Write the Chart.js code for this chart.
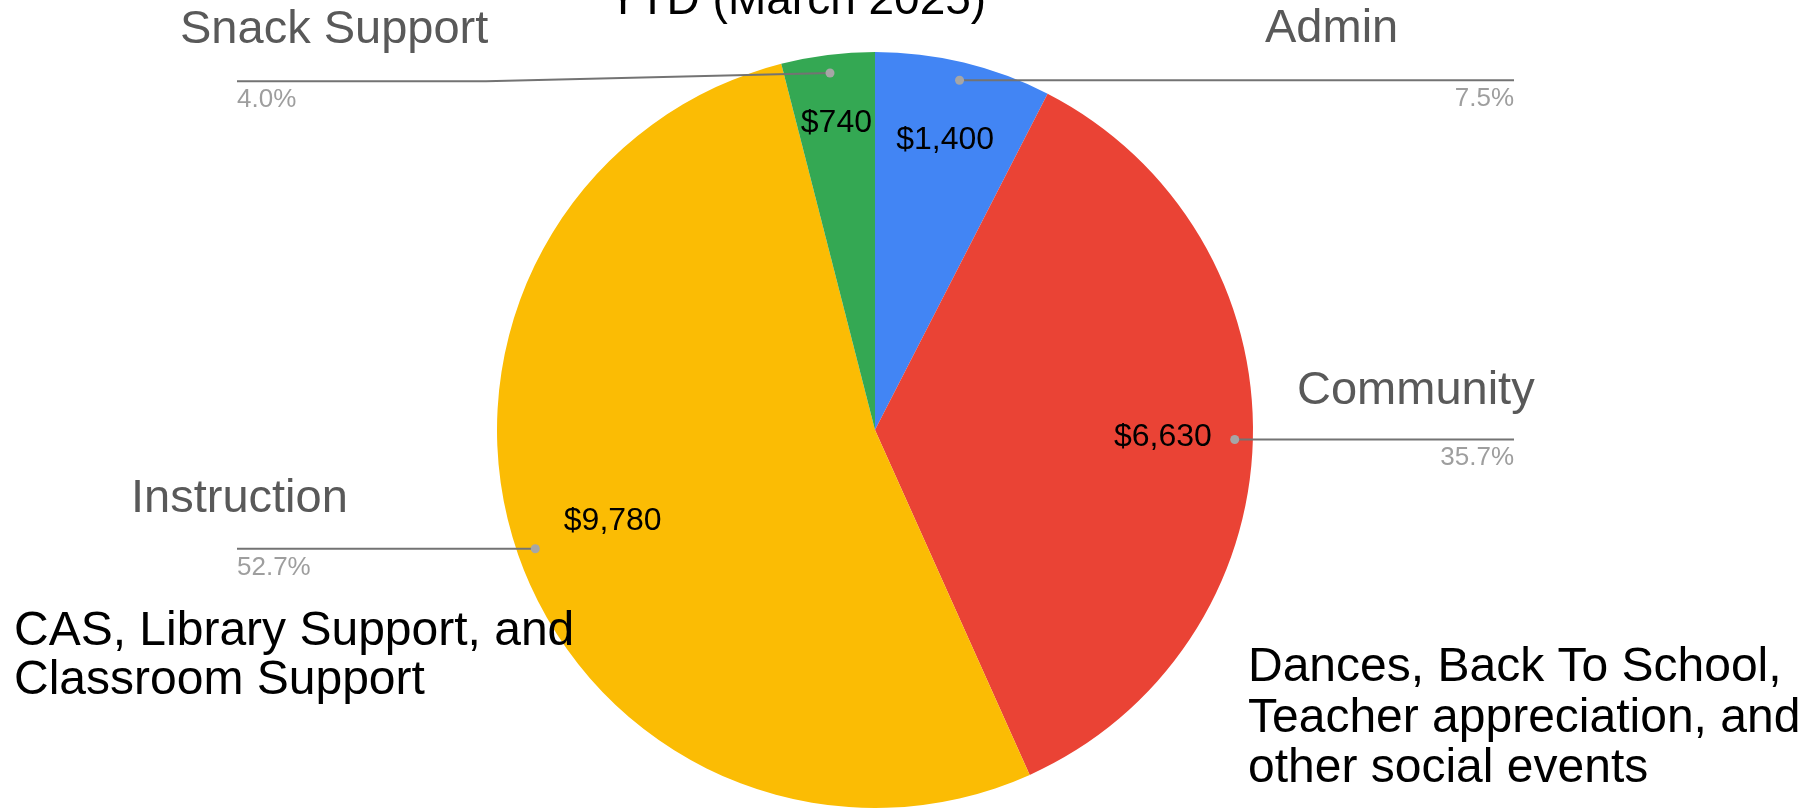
<!DOCTYPE html>
<html>
<head>
<meta charset="utf-8">
<script src="https://cdn.jsdelivr.net/npm/chart.js@4.4.1/dist/chart.umd.min.js"></script>
<style>
  html, body { margin: 0; padding: 0; background: #ffffff; }
  #wrap { width: 1816px; height: 811px; position: relative; }
</style>
</head>
<body>
<div id="wrap"><canvas id="c"></canvas></div>
<script>
// ---------- data ----------
const chartTitle = 'YTD (March 2025)';
const categories = ['Admin', 'Community', 'Instruction', 'Snack Support'];
const amounts = [1400, 6630, 9780, 740];
const sliceColors = ['#4285F4', '#EA4335', '#FBBC04', '#34A853'];
const noteInstruction = ['CAS, Library Support, and', 'Classroom Support'];
const noteCommunity = ['Dances, Back To School,', 'Teacher appreciation, and', 'other social events'];

// ---------- layout (text placement only) ----------
const FONT = '"Liberation Sans", Arial, Helvetica, sans-serif';
const valueRadius = [0.79, 0.762, 0.735, 0.817];   // fraction of outer radius for $ labels
const dotRadius = 0.952;                           // leader dot position (fraction of radius)
const nameLayout = [
  { x: 1265, dy: -38 },   // Admin
  { x: 1297, dy: -35 },   // Community
  { x: 131,  dy: -37 },   // Instruction
  { x: 180,  dy: -38 }    // Snack Support
];
const leaderBend = [null, null, null, { x: 486, alignTo: 0 }]; // Snack line bends to Admin's line level
const lineLeftX = 237, lineRightX = 1514;
const notePos = [
  { x: 14,   y: 645, lh: 49, lines: noteInstruction },
  { x: 1248, y: 681, lh: 50.5, lines: noteCommunity }
];

const total = amounts.reduce((a, b) => a + b, 0);
const fmtMoney = v => '$' + v.toLocaleString('en-US');
const fmtPct = v => (v / total * 100).toFixed(1) + '%';

const overlay = {
  id: 'overlay',
  afterDraw(chart) {
    const ctx = chart.ctx;
    const meta = chart.getDatasetMeta(0);
    const geo = meta.data.map(arc => arc.getProps(['x', 'y', 'startAngle', 'endAngle', 'outerRadius'], true));
    const dots = geo.map(g => {
      const mid = (g.startAngle + g.endAngle) / 2;
      return { x: g.x + Math.cos(mid) * g.outerRadius * dotRadius,
               y: g.y + Math.sin(mid) * g.outerRadius * dotRadius,
               right: Math.cos(mid) >= 0 };
    });

    ctx.save();
    // value labels inside slices
    ctx.fillStyle = '#000000';
    ctx.font = '32px ' + FONT;
    ctx.textAlign = 'center';
    ctx.textBaseline = 'middle';
    geo.forEach((g, i) => {
      const mid = (g.startAngle + g.endAngle) / 2;
      const r = g.outerRadius * valueRadius[i];
      ctx.fillText(fmtMoney(amounts[i]), g.x + Math.cos(mid) * r, g.y + Math.sin(mid) * r);
    });

    // leader lines, names, percentages
    dots.forEach((d, i) => {
      const bend = leaderBend[i];
      const lineY = bend ? dots[bend.alignTo].y + 1 : d.y;
      const endX = d.right ? lineRightX : lineLeftX;
      ctx.strokeStyle = '#737373';
      ctx.lineWidth = 2;
      ctx.beginPath();
      ctx.moveTo(d.x, d.y);
      if (bend) ctx.lineTo(bend.x, lineY);
      ctx.lineTo(endX, lineY);
      ctx.stroke();
      ctx.fillStyle = '#a6a6a6';
      ctx.beginPath();
      ctx.arc(d.x, d.y, 4.5, 0, Math.PI * 2);
      ctx.fill();

      ctx.textBaseline = 'alphabetic';
      ctx.fillStyle = '#595959';
      ctx.font = '47px ' + FONT;
      ctx.textAlign = 'left';
      ctx.fillText(categories[i], nameLayout[i].x, lineY + nameLayout[i].dy);

      ctx.fillStyle = '#9e9e9e';
      ctx.font = '26px ' + FONT;
      ctx.textAlign = d.right ? 'right' : 'left';
      ctx.fillText(fmtPct(amounts[i]), endX, lineY + 26);
    });

    // title (partly above the canvas edge, as in the reference)
    ctx.fillStyle = '#000000';
    ctx.font = '46px ' + FONT;
    ctx.textAlign = 'center';
    ctx.textBaseline = 'alphabetic';
    ctx.fillText(chartTitle, 797, 14);

    // notes
    ctx.font = '48px ' + FONT;
    ctx.textAlign = 'left';
    notePos.forEach(n => {
      n.lines.forEach((t, k) => ctx.fillText(t, n.x, n.y + k * n.lh));
    });
    ctx.restore();
  }
};

new Chart(document.getElementById('c'), {
  type: 'pie',
  data: {
    labels: categories,
    datasets: [{
      data: amounts,
      backgroundColor: sliceColors,
      borderWidth: 0
    }]
  },
  options: {
    responsive: true,
    maintainAspectRatio: false,
    animation: false,
    rotation: 0,
    layout: { padding: { left: 497, right: 563, top: 52, bottom: 3 } },
    plugins: {
      legend: { display: false },
      tooltip: { enabled: false },
      title: { display: false }
    }
  },
  plugins: [overlay]
});
</script>
</body>
</html>
